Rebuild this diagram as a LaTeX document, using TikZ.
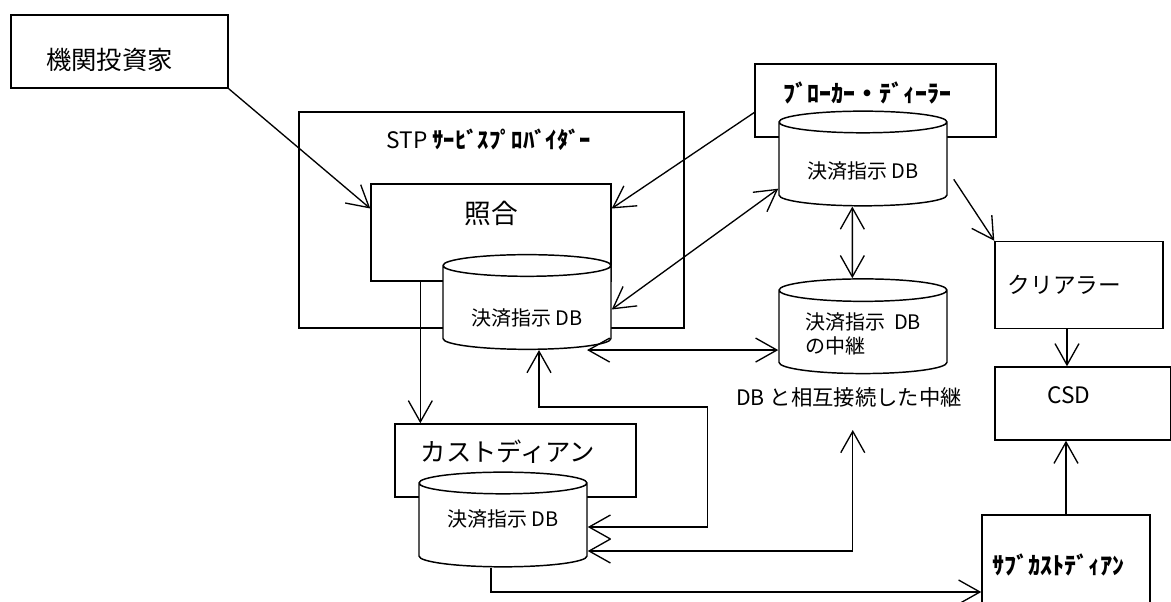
\documentclass[tikz,border=0pt]{standalone}
\usepackage{fontspec}
\setmainfont{Noto Sans CJK JP}
\usetikzlibrary{shapes.geometric, arrows.meta}
\tikzstyle{box} = [rectangle, draw=black, line width=1.1pt, fill=white]
\tikzstyle{db} = [cylinder, shape border rotate=90, aspect=0.18, draw=black, line width=1.1pt, fill=white, minimum width=126pt, minimum height=71pt, font=\fontsize{15}{18}\selectfont]
\tikzstyle{inlbl} = [anchor=center, inner sep=0pt]
\tikzstyle{arrow} = [line width=1pt, ->, >={Straight Barb[length=16pt, width=18pt]}]
\tikzstyle{arrow2} = [line width=1pt, <->, >={Straight Barb[length=16pt, width=18pt]}]
% lower/raise text in a cylinder without changing its box
\newcommand{\dbtext}[2]{\raisebox{#1}[\height][\depth]{#2}}

\begin{document}
\begin{tikzpicture}[x=0.75pt, y=-0.75pt]
\useasboundingbox (0,0) rectangle (1171,601);

\node (inv) [box, minimum width=162.75pt, minimum height=54.75pt, label={[inlbl, xshift=-7.5pt, yshift=-6pt, font=\fontsize{19}{22}\selectfont]center:機関投資家}] at (119.5,51.5) {};

\node (stp) [box, minimum width=288.75pt, minimum height=162pt, label={[inlbl, xshift=-2pt, yshift=60pt, font=\fontsize{17}{20}\selectfont]center:STP {\bfseries ｻｰﾋﾞｽﾌﾟﾛﾊﾞｲﾀﾞｰ}}] at (491.5,220) {};
\node (match) [box, minimum width=180pt, minimum height=72.75pt, label={[inlbl, yshift=14pt, font=\fontsize{20}{24}\selectfont]center:照合}] at (491,232.5) {};
\node (stpdb) [db] at (527,309.5) {\dbtext{-6.4pt}{決済指示 DB}};

\node (broker) [box, minimum width=180.75pt, minimum height=54.75pt, label={[inlbl, xshift=-6pt, yshift=5.6pt, font=\fontsize{18}{22}\selectfont\bfseries]center:ﾌﾞﾛｰｶｰ・ﾃﾞｨｰﾗｰ}] at (875.5,100.5) {};
\node (brokerdb) [db] at (863,166) {\dbtext{-4pt}{決済指示 DB}};

\node (relaydb) [db, align=left] at (863,334) {決済指示\ \ DB\\の中継};
\node (relaylbl) [font=\fontsize{16}{19}\selectfont] at (849,397) {DB と相互接続した中継};

\node (clearer) [box, minimum width=126pt, minimum height=65.25pt, label={[inlbl, xshift=-11pt, font=\fontsize{17}{20}\selectfont]center:クリアラー}] at (1079,285) {};
\node (csd) [box, minimum width=132pt, minimum height=54.75pt, label={[inlbl, xshift=-10.5pt, yshift=6.4pt, font=\fontsize{17}{20}\selectfont]center:CSD}] at (1083,403.5) {};
\node (subcust) [box, minimum width=126pt, minimum height=115.5pt, label={[inlbl, xshift=-6pt, yshift=20pt, font=\fontsize{18}{22}\selectfont\bfseries]center:ｻﾌﾞｶｽﾄﾃﾞｨｱﾝ}] at (1066,592) {};

\node (cust) [box, minimum width=180.75pt, minimum height=54.75pt, label={[inlbl, xshift=-5.6pt, yshift=6.4pt, font=\fontsize{19}{22}\selectfont]center:カストディアン}] at (515.5,460.5) {};
\node (custdb) [db] at (503,527) {\dbtext{6pt}{決済指示 DB}};

% connectors
\coordinate (relayin) at ([xshift=45pt]stpdb.south);
\draw [arrow] (inv.south east) -- ([yshift=18pt]match.west);
\draw [arrow] ([yshift=-9pt]broker.west) -- ([yshift=18pt]match.east);
\draw [arrow2] ([yshift=-17pt]brokerdb.west) -- (stpdb.east);
\draw [arrow2] ([xshift=-8pt]brokerdb.south) -- ([xshift=-8pt]relaydb.north);
\draw [arrow] ([xshift=4.5pt,yshift=-10pt]brokerdb.east) -- (clearer.north west);
\draw [arrow] ([xshift=-9pt]clearer.south) -- ([xshift=-9pt]clearer.south |- csd.north);
\draw [arrow] ([xshift=-53pt]match.south) -- ([xshift=-53pt]match.south |- cust.north);
\draw [arrow2] (relayin) -- (relayin -| relaydb.west);
\draw [arrow2] (custdb.east) -- ++(120,0) -- ++(0,-120) -| ([xshift=9pt]stpdb.south);
\draw [arrow2] ([yshift=-18pt]custdb.east) -- ++(265,0) -- ++(0,-121);
\draw [arrow] ([xshift=-9pt]custdb.south) |- (subcust.west);
\draw [arrow] (subcust.north) -- (subcust.north |- csd.south);
\end{tikzpicture}
\end{document}
